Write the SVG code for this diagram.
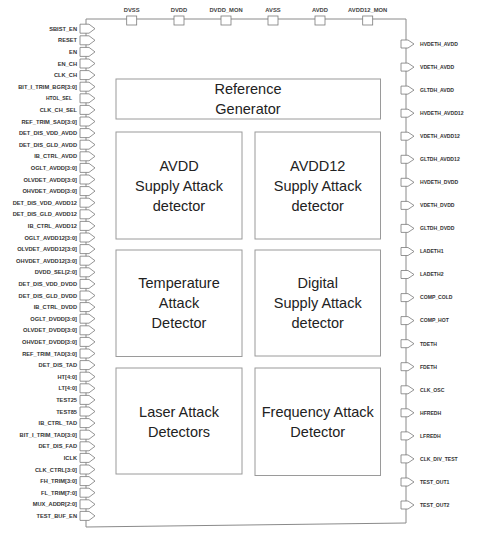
<svg xmlns="http://www.w3.org/2000/svg" width="480" height="535" viewBox="0 0 480 535">
<style>
.border{fill:none;stroke:#8a8a8a;stroke-width:1}
.blk{fill:#fff;stroke:#9a9a9a;stroke-width:1}
.pin{fill:#fff;stroke:#7a7a7a;stroke-width:0.8}
.bt{font-family:"Liberation Sans",Arial,sans-serif;font-size:14.5px;fill:#222;text-anchor:middle}
.ll{font-family:"Liberation Sans",Arial,sans-serif;font-size:5.7px;font-weight:bold;fill:#333;text-anchor:end}
.rl{font-family:"Liberation Sans",Arial,sans-serif;font-size:5.1px;font-weight:bold;fill:#333}
.tl{font-family:"Liberation Sans",Arial,sans-serif;font-size:5.8px;font-weight:bold;fill:#444;text-anchor:middle}
</style>
<defs>
<path id="pinL" class="pin" d="M0,-4.5 H9 L15,0 L9,4.5 H0 Z"/>
<path id="pinR" class="pin" d="M0,-4 H7 L13,0 L7,4 H0 Z"/>
<rect id="pinT" class="pin" x="-5" y="0" width="10" height="9"/>
</defs>
<g id="connectors">
<path class="border" d="M86,19 H406 V523 L86,527 Z"/>
</g>
<g id="blocks">
<g id="ref_gen"><rect class="blk" x="116" y="79" width="264.5" height="40"/><text class="bt" x="248" y="94.2">Reference</text><text class="bt" x="248" y="114.2">Generator</text></g>
<g id="avdd_det"><rect class="blk" x="116" y="132" width="126" height="107"/><text class="bt" x="179" y="170.7">AVDD</text><text class="bt" x="179" y="190.7">Supply Attack</text><text class="bt" x="179" y="210.7">detector</text></g>
<g id="avdd12_det"><rect class="blk" x="255" y="132" width="125.5" height="107"/><text class="bt" x="317.75" y="170.7">AVDD12</text><text class="bt" x="317.75" y="190.7">Supply Attack</text><text class="bt" x="317.75" y="210.7">detector</text></g>
<g id="temp_det"><rect class="blk" x="116" y="250" width="126" height="106.5"/><text class="bt" x="179" y="288.2">Temperature</text><text class="bt" x="179" y="308.2">Attack</text><text class="bt" x="179" y="328.2">Detector</text></g>
<g id="digital_det"><rect class="blk" x="255" y="250" width="125.5" height="106"/><text class="bt" x="317.75" y="288.2">Digital</text><text class="bt" x="317.75" y="308.2">Supply Attack</text><text class="bt" x="317.75" y="328.2">detector</text></g>
<g id="laser_det"><rect class="blk" x="116" y="368" width="126" height="106"/><text class="bt" x="179" y="416.7">Laser Attack</text><text class="bt" x="179" y="436.7">Detectors</text></g>
<g id="freq_det"><rect class="blk" x="255" y="368" width="125.5" height="107.5"/><text class="bt" x="317.75" y="416.7">Frequency Attack</text><text class="bt" x="317.75" y="436.7">Detector</text></g>
</g>
<g id="top_pins">
<g id="p_dvss"><use href="#pinT" x="131.7" y="16"/><text class="tl" x="131.7" y="11.5">DVSS</text></g>
<g id="p_dvdd"><use href="#pinT" x="179" y="16"/><text class="tl" x="179" y="11.5">DVDD</text></g>
<g id="p_dvdd_mon"><use href="#pinT" x="226" y="16"/><text class="tl" x="226" y="11.5">DVDD_MON</text></g>
<g id="p_avss"><use href="#pinT" x="273" y="16"/><text class="tl" x="273" y="11.5">AVSS</text></g>
<g id="p_avdd"><use href="#pinT" x="320" y="16"/><text class="tl" x="320" y="11.5">AVDD</text></g>
<g id="p_avdd12_mon"><use href="#pinT" x="367.7" y="16"/><text class="tl" x="367.7" y="11.5">AVDD12_MON</text></g>
</g>
<g id="left_pins">
<g id="l0"><use href="#pinL" x="80" y="28.7"/><text class="ll" x="77" y="30.7">SBIST_EN</text></g>
<g id="l1"><use href="#pinL" x="80" y="40.3"/><text class="ll" x="77" y="42.3">RESET</text></g>
<g id="l2"><use href="#pinL" x="80" y="51.9"/><text class="ll" x="77" y="53.9">EN</text></g>
<g id="l3"><use href="#pinL" x="80" y="63.5"/><text class="ll" x="77" y="65.5">EN_CH</text></g>
<g id="l4"><use href="#pinL" x="80" y="75.1"/><text class="ll" x="77" y="77.1">CLK_CH</text></g>
<g id="l5"><use href="#pinL" x="80" y="86.7"/><text class="ll" x="77" y="88.7">BIT_I_TRIM_BGR[3:0]</text></g>
<g id="l6"><use href="#pinL" x="80" y="98.3"/><text class="ll" x="72" y="100.3" style="font-size:5px">HTOL_SEL</text></g>
<g id="l7"><use href="#pinL" x="80" y="109.9"/><text class="ll" x="77" y="111.9">CLK_CH_SEL</text></g>
<g id="l8"><use href="#pinL" x="80" y="121.5"/><text class="ll" x="77" y="123.5">REF_TRIM_SAD[3:0]</text></g>
<g id="l9"><use href="#pinL" x="80" y="133.1"/><text class="ll" x="77" y="135.1">DET_DIS_VDD_AVDD</text></g>
<g id="l10"><use href="#pinL" x="80" y="144.7"/><text class="ll" x="77" y="146.7">DET_DIS_GLD_AVDD</text></g>
<g id="l11"><use href="#pinL" x="80" y="156.3"/><text class="ll" x="77" y="158.3">IB_CTRL_AVDD</text></g>
<g id="l12"><use href="#pinL" x="80" y="167.9"/><text class="ll" x="77" y="169.9">OGLT_AVDD[3:0]</text></g>
<g id="l13"><use href="#pinL" x="80" y="179.5"/><text class="ll" x="77" y="181.5">OLVDET_AVDD[3:0]</text></g>
<g id="l14"><use href="#pinL" x="80" y="191.1"/><text class="ll" x="77" y="193.1">OHVDET_AVDD[3:0]</text></g>
<g id="l15"><use href="#pinL" x="80" y="202.7"/><text class="ll" x="77" y="204.7">DET_DIS_VDD_AVDD12</text></g>
<g id="l16"><use href="#pinL" x="80" y="214.3"/><text class="ll" x="77" y="216.3">DET_DIS_GLD_AVDD12</text></g>
<g id="l17"><use href="#pinL" x="80" y="225.9"/><text class="ll" x="77" y="227.9">IB_CTRL_AVDD12</text></g>
<g id="l18"><use href="#pinL" x="80" y="237.5"/><text class="ll" x="77" y="239.5">OGLT_AVDD12[3:0]</text></g>
<g id="l19"><use href="#pinL" x="80" y="249.1"/><text class="ll" x="77" y="251.1">OLVDET_AVDD12[3:0]</text></g>
<g id="l20"><use href="#pinL" x="80" y="260.7"/><text class="ll" x="77" y="262.7">OHVDET_AVDD12[3:0]</text></g>
<g id="l21"><use href="#pinL" x="80" y="272.3"/><text class="ll" x="77" y="274.3">DVDD_SEL[2:0]</text></g>
<g id="l22"><use href="#pinL" x="80" y="283.9"/><text class="ll" x="77" y="285.9">DET_DIS_VDD_DVDD</text></g>
<g id="l23"><use href="#pinL" x="80" y="295.5"/><text class="ll" x="77" y="297.5">DET_DIS_GLD_DVDD</text></g>
<g id="l24"><use href="#pinL" x="80" y="307.1"/><text class="ll" x="77" y="309.1">IB_CTRL_DVDD</text></g>
<g id="l25"><use href="#pinL" x="80" y="318.7"/><text class="ll" x="77" y="320.7">OGLT_DVDD[3:0]</text></g>
<g id="l26"><use href="#pinL" x="80" y="330.3"/><text class="ll" x="77" y="332.3">OLVDET_DVDD[3:0]</text></g>
<g id="l27"><use href="#pinL" x="80" y="341.9"/><text class="ll" x="77" y="343.9">OHVDET_DVDD[3:0]</text></g>
<g id="l28"><use href="#pinL" x="80" y="353.5"/><text class="ll" x="77" y="355.5">REF_TRIM_TAD[3:0]</text></g>
<g id="l29"><use href="#pinL" x="80" y="365.1"/><text class="ll" x="77" y="367.1">DET_DIS_TAD</text></g>
<g id="l30"><use href="#pinL" x="80" y="376.7"/><text class="ll" x="77" y="378.7">HT[4:0]</text></g>
<g id="l31"><use href="#pinL" x="80" y="388.3"/><text class="ll" x="77" y="390.3">LT[4:0]</text></g>
<g id="l32"><use href="#pinL" x="80" y="399.9"/><text class="ll" x="77" y="401.9">TEST25</text></g>
<g id="l33"><use href="#pinL" x="80" y="411.5"/><text class="ll" x="77" y="413.5">TEST85</text></g>
<g id="l34"><use href="#pinL" x="80" y="423.1"/><text class="ll" x="77" y="425.1">IB_CTRL_TAD</text></g>
<g id="l35"><use href="#pinL" x="80" y="434.7"/><text class="ll" x="77" y="436.7">BIT_I_TRIM_TAD[3:0]</text></g>
<g id="l36"><use href="#pinL" x="80" y="446.3"/><text class="ll" x="77" y="448.3">DET_DIS_FAD</text></g>
<g id="l37"><use href="#pinL" x="80" y="457.9"/><text class="ll" x="77" y="459.9">ICLK</text></g>
<g id="l38"><use href="#pinL" x="80" y="469.5"/><text class="ll" x="77" y="471.5">CLK_CTRL[3:0]</text></g>
<g id="l39"><use href="#pinL" x="80" y="481.1"/><text class="ll" x="77" y="483.1">FH_TRIM[3:0]</text></g>
<g id="l40"><use href="#pinL" x="80" y="492.7"/><text class="ll" x="77" y="494.7">FL_TRIM[7:0]</text></g>
<g id="l41"><use href="#pinL" x="80" y="504.3"/><text class="ll" x="77" y="506.3">MUX_ADDR[2:0]</text></g>
<g id="l42"><use href="#pinL" x="80" y="515.9"/><text class="ll" x="77" y="517.9">TEST_BUF_EN</text></g>
</g>
<g id="right_pins">
<g id="r0"><use href="#pinR" x="401" y="44"/><text class="rl" x="420" y="45.8">HVDETH_AVDD</text></g>
<g id="r1"><use href="#pinR" x="401" y="67.1"/><text class="rl" x="420" y="68.9">VDETH_AVDD</text></g>
<g id="r2"><use href="#pinR" x="401" y="90.1"/><text class="rl" x="420" y="91.9">GLTDH_AVDD</text></g>
<g id="r3"><use href="#pinR" x="401" y="113.2"/><text class="rl" x="420" y="115">HVDETH_AVDD12</text></g>
<g id="r4"><use href="#pinR" x="401" y="136.2"/><text class="rl" x="420" y="138">VDETH_AVDD12</text></g>
<g id="r5"><use href="#pinR" x="401" y="159.3"/><text class="rl" x="420" y="161.1">GLTDH_AVDD12</text></g>
<g id="r6"><use href="#pinR" x="401" y="182.3"/><text class="rl" x="420" y="184.1">HVDETH_DVDD</text></g>
<g id="r7"><use href="#pinR" x="401" y="205.4"/><text class="rl" x="420" y="207.2">VDETH_DVDD</text></g>
<g id="r8"><use href="#pinR" x="401" y="228.4"/><text class="rl" x="420" y="230.2">GLTDH_DVDD</text></g>
<g id="r9"><use href="#pinR" x="401" y="251.5"/><text class="rl" x="420" y="253.3">LADETH1</text></g>
<g id="r10"><use href="#pinR" x="401" y="274.5"/><text class="rl" x="420" y="276.3">LADETH2</text></g>
<g id="r11"><use href="#pinR" x="401" y="297.6"/><text class="rl" x="420" y="299.4">COMP_COLD</text></g>
<g id="r12"><use href="#pinR" x="401" y="320.6"/><text class="rl" x="420" y="322.4">COMP_HOT</text></g>
<g id="r13"><use href="#pinR" x="401" y="343.7"/><text class="rl" x="420" y="345.5">TDETH</text></g>
<g id="r14"><use href="#pinR" x="401" y="366.7"/><text class="rl" x="420" y="368.5">FDETH</text></g>
<g id="r15"><use href="#pinR" x="401" y="389.8"/><text class="rl" x="420" y="391.6">CLK_OSC</text></g>
<g id="r16"><use href="#pinR" x="401" y="412.8"/><text class="rl" x="420" y="414.6">HFREDH</text></g>
<g id="r17"><use href="#pinR" x="401" y="435.9"/><text class="rl" x="420" y="437.7">LFREDH</text></g>
<g id="r18"><use href="#pinR" x="401" y="458.9"/><text class="rl" x="420" y="460.7">CLK_DIV_TEST</text></g>
<g id="r19"><use href="#pinR" x="401" y="482"/><text class="rl" x="420" y="483.8">TEST_OUT1</text></g>
<g id="r20"><use href="#pinR" x="401" y="505"/><text class="rl" x="420" y="506.8">TEST_OUT2</text></g>
</g>
</svg>
